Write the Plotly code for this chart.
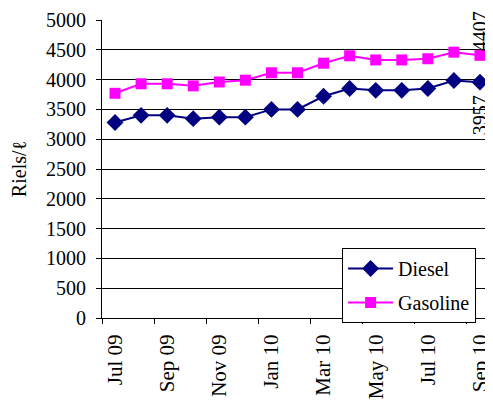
import plotly.graph_objs as go

months = ["Jul 09", "Aug 09", "Sep 09", "Oct 09", "Nov 09", "Dec 09", "Jan 10", "Feb 10",
          "Mar 10", "Apr 10", "May 10", "Jun 10", "Jul 10", "Aug 10", "Sep 10"]
diesel = [3280, 3400, 3400, 3345, 3370, 3370, 3500, 3500, 3720, 3850, 3820, 3820, 3850, 3985, 3957]
gasoline = [3770, 3930, 3930, 3895, 3960, 3990, 4115, 4115, 4275, 4400, 4330, 4330, 4350, 4460, 4407]

idx = list(range(len(months)))
serif = "Times New Roman, Liberation Serif, DejaVu Serif, serif"

trace_d = go.Scatter(x=idx, y=diesel, name="Diesel", mode="lines+markers",
                     line=dict(color="#000080", width=2),
                     marker=dict(symbol="diamond", size=13, color="#000080"),
                     legendgroup="d")
trace_g = go.Scatter(x=idx, y=gasoline, name="Gasoline", mode="lines+markers",
                     line=dict(color="#FF00FF", width=2),
                     marker=dict(symbol="square", size=11, color="#FF00FF"),
                     legendgroup="g")
# only carries the boundary tick marks of the category axis
trace_ticks = go.Scatter(x=[idx[0]], y=[None], xaxis="x2", showlegend=False, hoverinfo="skip")

# the page body has an 8px margin, so the figure is made 8px smaller
layout = go.Layout(
    width=485, height=392,
    margin=dict(l=94, r=0, t=12, b=82),
    plot_bgcolor="white", paper_bgcolor="white",
    font=dict(family=serif, size=20, color="black"),
    xaxis=dict(range=[-0.5, len(months) - 0.5], tickvals=idx[::2], ticktext=months[::2],
               tickangle=-90, ticks="", showgrid=False, showline=True,
               linecolor="black", linewidth=1, zeroline=False, ticklabelstandoff=7,
               tickfont=dict(family=serif, size=21)),
    xaxis2=dict(range=[-0.5, len(months) - 0.5], overlaying="x",
                tickvals=[i - 0.5 for i in idx[::2]] + [len(months) - 0.5], showticklabels=False,
                ticks="outside", ticklen=5, tickcolor="black", showgrid=False,
                side="bottom", anchor="y", showline=False, zeroline=False),
    yaxis=dict(range=[0, 5000], dtick=500, ticks="outside", ticklen=5, tickcolor="black",
               showgrid=True, gridcolor="black", gridwidth=1, showline=True,
               linecolor="black", linewidth=1, zeroline=False, ticklabelstandoff=6,
               tickfont=dict(family=serif, size=20),
               title=dict(text="Riels/ℓ", standoff=17, font=dict(family=serif, size=20))),
    legend=dict(x=0.614, y=0.235, xanchor="left", yanchor="top", bgcolor="white",
                bordercolor="black", borderwidth=1, tracegroupgap=5, itemwidth=45,
                font=dict(family=serif, size=20)),
    showlegend=True,
    annotations=[
        dict(x=idx[-1], y=gasoline[-1], text=str(gasoline[-1]), textangle=-90,
             showarrow=False, yanchor="bottom", yshift=3, borderpad=0,
             font=dict(family=serif, size=20)),
        dict(x=idx[-1], y=diesel[-1], text=str(diesel[-1]), textangle=-90,
             showarrow=False, yanchor="top", yshift=-12, borderpad=0,
             font=dict(family=serif, size=20)),
    ],
)

fig = go.Figure(data=[trace_d, trace_g, trace_ticks], layout=layout)
fig.write_html("out.html")
